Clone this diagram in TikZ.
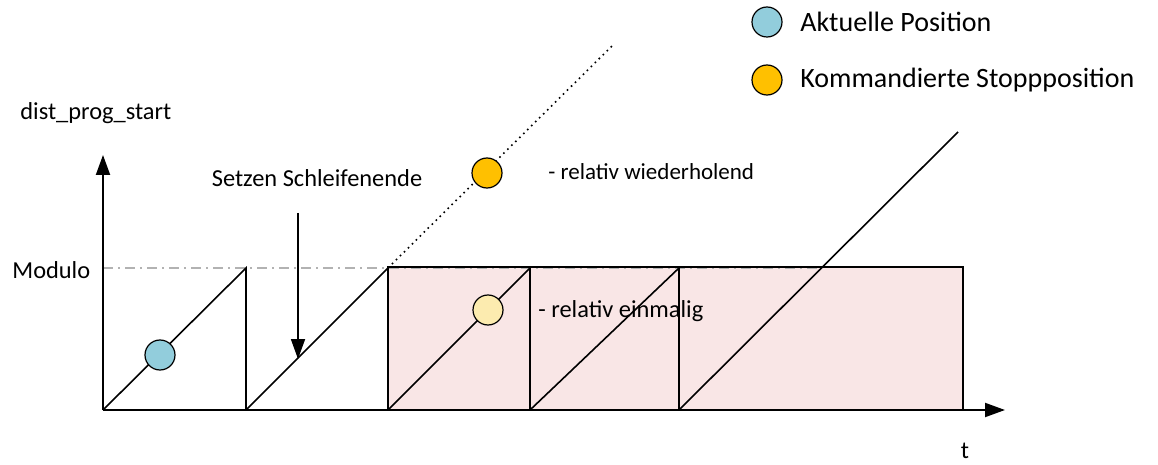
\documentclass[tikz,border=0pt]{standalone}
\usepackage{fontspec}
\setmainfont{Carlito}
\usetikzlibrary{arrows.meta}

\definecolor{posblue}{RGB}{146,205,220}
\definecolor{stoporange}{RGB}{255,192,0}
\definecolor{stoppale}{RGB}{252,235,175}
\definecolor{zonepink}{RGB}{249,230,230}

\tikzset{
  marker/.style={circle, draw=black, line width=0.6pt, minimum size=15pt, inner sep=0pt},
  axis/.style={line width=1pt, -{Triangle[length=10pt,width=7pt]}},
  saw/.style={line width=0.8pt},
  lbl/.style={inner sep=0pt, font=\fontsize{12.2}{14}\selectfont},
  legtext/.style={inner sep=0pt, font=\fontsize{14}{16}\selectfont}
}

\begin{document}
\begin{tikzpicture}[x=0.5pt, y=-0.5pt]
  \useasboundingbox (0,0) rectangle (1158,465);

  \coordinate (o) at (103,410);
  \coordinate (ytip) at (103,155);
  \coordinate (xtip) at (1005,410);

  \fill[zonepink] (388,267) rectangle (963,410); % Bereich einmalig
  \draw[gray!60, line width=0.7pt, dash pattern=on 5pt off 2.5pt on 1pt off 2.5pt] (103,268) -- (820,268); % Modulo-Linie
  \draw[line width=0.9pt] (388,267) rectangle (963,410); % Rahmen

  \draw[saw] (103,410) -- (246,268) -- (246,410); % Zahn 1
  \draw[saw] (246,410) -- (388,268) -- (388,410); % Zahn 2
  \draw[saw, dotted] (388,268) -- (614,44); % wiederholend
  \draw[saw] (388,410) -- (530,268) -- (530,410); % Zahn 3
  \draw[saw] (530,410) -- (679,268) -- (679,410); % Zahn 4
  \draw[saw] (679,410) -- (958,132); % Auslauf

  \draw[axis] (o) -- (ytip); % y-Achse
  \draw[axis] (o) -- (xtip); % x-Achse

  \node[lbl, anchor=west] (yname) at (20,113) {dist\_prog\_start};
  \node[lbl] (tname) at (965,451) {t};
  \node[lbl, anchor=west] (modulo) at (12,270) {Modulo};

  \node[lbl] (setzen) at (317,178) {Setzen Schleifenende};
  \coordinate (s1) at (298,213);
  \coordinate (s2) at (298,359);
  \draw[line width=0.9pt, -{Triangle[length=10pt,width=7pt]}] (s1) -- (s2); % Setzen

  \node[marker, fill=posblue] (akt) at (160,355) {};
  \node[marker, fill=stoporange] (wdh) at (487,173) {};
  \node[marker, fill=stoppale] (einm) at (488,310) {};

  \node[inner sep=0pt, font=\fontsize{11.5}{13}\selectfont, anchor=west] (wdhtext) at (548,172) {- relativ wiederholend};
  \node[lbl, anchor=west] (einmtext) at (538,311) {- relativ einmalig};

  \node[marker, fill=posblue] (leg1) at (767,22) {};
  \node[marker, fill=stoporange] (leg2) at (767,80) {};
  \node[legtext, anchor=west] (leg1text) at (800,22) {Aktuelle Position};
  \node[legtext, anchor=west] (leg2text) at (800,80) {Kommandierte Stoppposition};
\end{tikzpicture}
\end{document}
